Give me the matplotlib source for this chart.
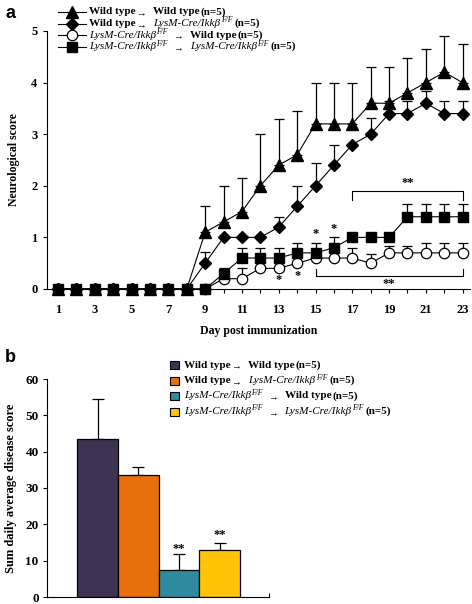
import matplotlib
matplotlib.use('Agg')
import matplotlib.pyplot as plt
from matplotlib.lines import Line2D
from matplotlib.patches import Rectangle
import numpy as np

plt.rcParams['font.family'] = ['Liberation Serif', 'DejaVu Serif']
plt.rcParams['font.weight'] = 'bold'

W, H = 472, 604

# ---- panel a data ----
days = list(range(1, 24))
wt_wt = [0, 0, 0, 0, 0, 0, 0, 0, 1.1, 1.3, 1.5, 2.0, 2.4, 2.6, 3.2, 3.2, 3.2, 3.6, 3.6, 3.8, 4.0, 4.2, 4.0]
wt_wt_err = [0, 0, 0, 0, 0, 0, 0, 0, 0.5, 0.7, 0.65, 1.0, 0.9, 0.85, 0.8, 0.8, 0.8, 0.7, 0.7, 0.68, 0.65, 0.7, 0.74]
wt_ko = [0, 0, 0, 0, 0, 0, 0, 0, 0.5, 1.0, 1.0, 1.0, 1.2, 1.6, 2.0, 2.4, 2.8, 3.0, 3.4, 3.4, 3.6, 3.4, 3.4]
wt_ko_err = [0, 0, 0, 0, 0, 0, 0, 0, 0.22, 0, 0, 0, 0.2, 0.4, 0.45, 0.4, 0, 0.32, 0.25, 0.25, 0.23, 0.25, 0.25]
ko_wt = [0, 0, 0, 0, 0, 0, 0, 0, 0, 0.2, 0.2, 0.4, 0.4, 0.5, 0.6, 0.6, 0.6, 0.5, 0.7, 0.7, 0.7, 0.7, 0.7]
ko_wt_err = [0, 0, 0, 0, 0, 0, 0, 0, 0, 0, 0.2, 0, 0, 0, 0, 0.2, 0.2, 0.17, 0.13, 0.13, 0.2, 0.2, 0.2]
ko_ko = [0, 0, 0, 0, 0, 0, 0, 0, 0, 0.3, 0.6, 0.6, 0.6, 0.7, 0.7, 0.8, 1.0, 1.0, 1.0, 1.4, 1.4, 1.4, 1.4]
ko_ko_err = [0, 0, 0, 0, 0, 0, 0, 0, 0, 0.1, 0.2, 0.2, 0.2, 0.2, 0.2, 0.2, 0, 0, 0, 0.25, 0.25, 0.25, 0.25]

# ---- panel b data ----
groups = ['WT->WT', 'WT->KO', 'KO->WT', 'KO->KO']
sums = [43.6, 33.7, 7.3, 12.9]
sums_err = [10.9, 2.2, 4.6, 1.9]
bar_colors = ['#3f3354', '#e8700c', '#2f8ba0', '#ffc408']


def px(x, y):
    return x / W, 1 - y / H


fig = plt.figure(figsize=(W / 100, H / 100), dpi=100)
renderer = fig.canvas.get_renderer()

# ================= panel a =================
ax = fig.add_axes([47 / W, 315 / H, 423 / W, 258 / H])
series = [
    (wt_wt, wt_wt_err, dict(marker='^', ms=8, mfc='black', mec='black')),
    (wt_ko, wt_ko_err, dict(marker='D', ms=6.5, mfc='black', mec='black')),
    (ko_wt, ko_wt_err, dict(marker='o', ms=7.5, mfc='white', mec='black', mew=0.9)),
    (ko_ko, ko_ko_err, dict(marker='s', ms=7, mfc='black', mec='black')),
]
d = np.array(days)
for z, (vals, errs, st) in enumerate(series):
    vals = np.array(vals)
    errs = np.array(errs)
    m = errs > 0
    ax.errorbar(d[m], vals[m], yerr=[np.zeros(m.sum()), errs[m]], fmt='none',
                ecolor='black', elinewidth=0.9, capsize=3.5, capthick=0.9,
                zorder=2 + z, clip_on=False)
    ax.plot(d, vals, color='black', lw=0.8, zorder=3 + z, clip_on=False, **st)

ax.set_xlim(0.4, 23.4)
ax.set_ylim(0, 5)
ax.set_xticks(days)
ax.set_xticklabels([str(x) if x % 2 == 1 else '' for x in days])
ax.set_yticks([0, 1, 2, 3, 4, 5])
for s in ['top', 'right']:
    ax.spines[s].set_visible(False)
for s in ['left', 'bottom']:
    ax.spines[s].set_linewidth(0.8)
ax.tick_params(length=3, width=0.8, labelsize=9, pad=4)
ax.tick_params(axis='x', pad=8)
ax.set_xlabel('Day post immunization', fontsize=8.5, fontweight='bold', labelpad=6)
ax.set_ylabel('Neurological score', fontsize=8.5, fontweight='bold', labelpad=8)

# significance marks
for x, y in [(15, 1.06), (16, 1.17), (13, 0.17), (14, 0.25)]:
    ax.text(x, y, '*', ha='center', va='center', fontsize=9)
ax.plot([17, 17, 23, 23], [1.73, 1.89, 1.89, 1.73], color='black', lw=0.8, clip_on=False)
ax.text(20, 2.06, '**', ha='center', va='center', fontsize=9)
ax.plot([15, 15, 23, 23], [0.38, 0.25, 0.25, 0.38], color='black', lw=0.8, clip_on=False)
ax.text(19, 0.1, '**', ha='center', va='center', fontsize=9)

fig.text(*px(5, 13), 'a', fontsize=13, fontweight='bold', family='Liberation Sans', va='center')


def draw_row(x, y, pieces):
    # pieces: (text, style, gap_before, dy, size)
    for text, style, gap, dy, size in pieces:
        x += gap
        t = fig.text(*px(x, y + dy), text, fontsize=size, va='center',
                     fontweight='bold' if style == 'b' else 'normal',
                     fontstyle='italic' if style == 'i' else 'normal')
        x += t.get_window_extent(renderer).width
    return x


def row_pieces(first_ko, second_ko, n_gap):
    p = []
    if first_ko:
        p += [('LysM-Cre/Ikkβ', 'i', 0, 0, 8), ('F/F', 'i', 0.5, -3, 5.5)]
        p += [('→', 'n', 5, 2, 7)]
    else:
        p += [('Wild type', 'b', 0, 0, 8), ('→', 'n', 1, 2, 7)]
    if second_ko:
        p += [('LysM-Cre/Ikkβ', 'i', n_gap, 0, 8), ('F/F', 'i', 0.5, -3, 5.5), ('(n=5)', 'b', 2, 0, 8)]
    else:
        p += [('Wild type', 'b', n_gap, 0, 8), ('(n=5)', 'b', 1, 0, 8)]
    return p


leg_rows = [(False, False), (False, True), (True, False), (True, True)]
marker_styles = [s[2] for s in series]
for i, ((a1, a2), y) in enumerate(zip(leg_rows, [12, 23.5, 35, 46.5])):
    st = dict(marker_styles[i])
    fig.add_artist(Line2D([58 / W, 86 / W], [1 - y / H] * 2, color='black', lw=0.8,
                          transform=fig.transFigure))
    fig.add_artist(Line2D([72 / W], [1 - y / H], color='black', lw=0,
                          transform=fig.transFigure, **st))
    draw_row(89, y, row_pieces(a1, a2, 7))

# ================= panel b =================
bx = fig.add_axes([47 / W, 7 / H, 222 / W, 218 / H])
xb = np.arange(len(groups))
bx.bar(xb, sums, width=1.0, color=bar_colors, edgecolor='black', linewidth=0.9, zorder=2)
bx.errorbar(xb, sums, yerr=[np.zeros(len(sums)), sums_err], fmt='none', ecolor='black',
            elinewidth=0.9, capsize=4, capthick=0.9, zorder=1)
bx.set_xlim(-1.24, 4.21)
bx.set_ylim(0, 60)
bx.set_yticks([0, 10, 20, 30, 40, 50, 60])
bx.set_xticks([4.21])
bx.set_xticklabels([''])
bx.tick_params(axis='x', direction='in', length=3, width=0.8)
bx.tick_params(axis='y', length=3, width=0.8, labelsize=9.5, pad=3)
for s in ['top', 'right']:
    bx.spines[s].set_visible(False)
for s in ['left', 'bottom']:
    bx.spines[s].set_linewidth(0.8)
bx.set_ylabel('Sum daily average disease score', fontsize=9, fontweight='bold', labelpad=6)
bx.text(2, sums[2] + sums_err[2] + 1.3, '**', ha='center', va='center', fontsize=9)
bx.text(3, sums[3] + sums_err[3] + 2.4, '**', ha='center', va='center', fontsize=9)

fig.text(*px(5, 357), 'b', fontsize=13, fontweight='bold', family='Liberation Sans', va='center')

for i, ((a1, a2), y) in enumerate(zip(leg_rows, [365, 380.5, 396, 411.5])):
    fig.add_artist(Rectangle(px(170, y + 4), 9 / W, 8 / H, facecolor=bar_colors[i],
                             edgecolor='black', lw=0.8, transform=fig.transFigure))
    draw_row(184, y, row_pieces(a1, a2, 7))

fig.savefig('out.png', dpi=100)
